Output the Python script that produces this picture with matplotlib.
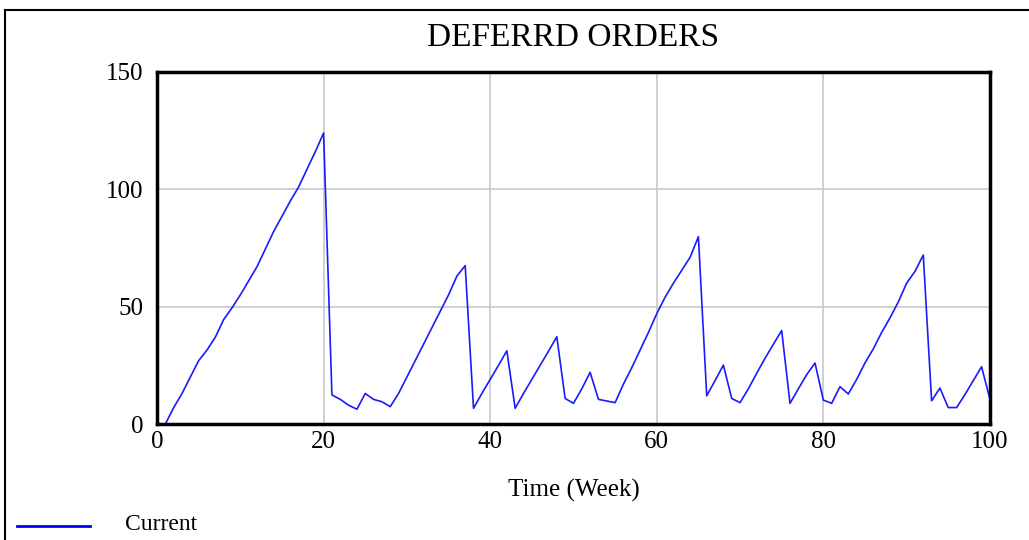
import numpy as np
import matplotlib.pyplot as plt
from matplotlib.lines import Line2D

plt.rcParams['font.family'] = ['Liberation Serif', 'DejaVu Serif']

weeks = np.arange(0, 101)
deferred = [
    0, 0, 7, 13, 20, 27, 31.5, 37, 44.5, 49.5,
    55, 61, 67, 74.5, 82, 88.5, 95, 101, 108.5, 116,
    124, 12.4, 10.5, 8, 6.3, 13, 10.5, 9.5, 7.4, 13,
    20, 27, 34, 41, 48, 55, 63, 67.5, 6.7, 13,
    19, 25, 31.2, 6.7, 13, 19, 25, 31, 37.2, 10.9,
    8.8, 15, 22, 10.5, 9.8, 9.1, 17, 24, 31.5, 39,
    47, 54, 60, 65.5, 71, 79.8, 12, 18.5, 25.1, 10.9,
    9.1, 15, 21.6, 28, 34, 39.8, 8.8, 15, 21, 26,
    10.2, 8.8, 15.9, 12.8, 19, 26, 32, 39, 45.2, 52,
    60, 65, 72, 9.9, 15.3, 7, 7, 12.5, 18.5, 24.4,
    10.7,
]

fig = plt.figure(figsize=(10.29, 5.4), dpi=100)
ax = fig.add_axes([0.1526, 0.2148, 0.8094, 0.6519])

ax.plot(weeks, deferred, color='#1a1aff', lw=1.2)

ax.set_xlim(0, 100)
ax.set_ylim(0, 150)
ax.set_xticks([0, 20, 40, 60, 80, 100])
ax.set_yticks([0, 50, 100, 150])
ax.grid(True, color='#c8c8c8', lw=1.2)
ax.tick_params(length=0, labelsize=18)
ax.tick_params(axis='x', pad=5)
ax.tick_params(axis='y', pad=10)
for s in ax.spines.values():
    s.set_linewidth(2.5)
    s.set_color('black')

ax.set_title('DEFERRD ORDERS', fontsize=24, pad=19)
ax.set_xlabel('Time (Week)', fontsize=18, labelpad=19)

# legend under the plot, flush left
fig.add_artist(Line2D([17 / 1029, 90 / 1029], [1 - 526 / 540] * 2,
                      color='#0000ff', lw=2))
fig.text(125 / 1029, 1 - 525 / 540, 'Current', fontsize=17, va='center')

# outer frame
fig.add_artist(Line2D([5 / 1029, 5 / 1029], [0, 1 - 10 / 540], color='black', lw=1.5))
fig.add_artist(Line2D([5 / 1029, 1], [1 - 10 / 540] * 2, color='black', lw=1.5))

fig.savefig('out.png', dpi=100)
